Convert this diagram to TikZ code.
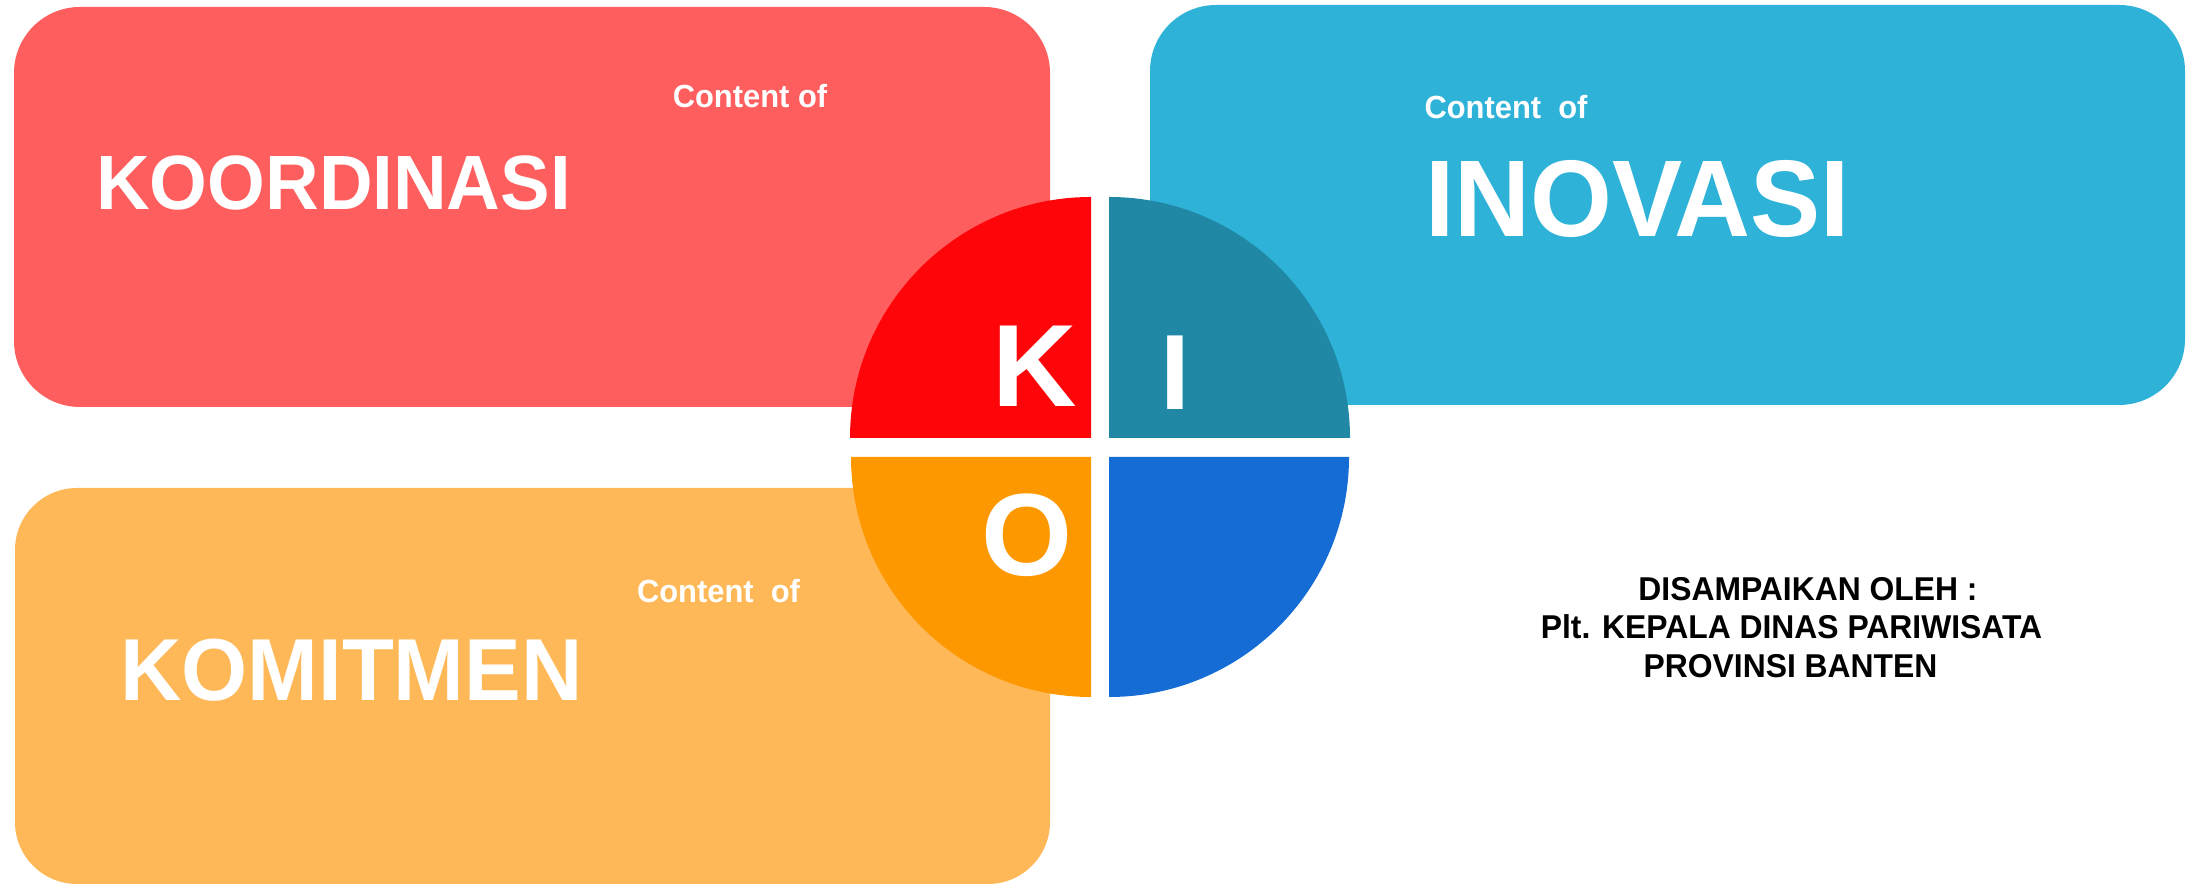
\documentclass[tikz,border=0pt]{standalone}
\usepackage{fontspec}
\setmainfont{Liberation Sans}
\newfontfamily\narrowfont[FakeStretch=0.965]{Liberation Sans}
\definecolor{boxred}{HTML}{FF5E5E}
\definecolor{boxblue}{HTML}{2EB2D8}
\definecolor{boxorange}{HTML}{FEB857}
\definecolor{qred}{HTML}{FE0509}
\definecolor{qteal}{HTML}{2088A5}
\definecolor{qorange}{HTML}{FE9800}
\definecolor{qblue}{HTML}{146CD4}
\tikzset{
  lbl/.style={inner sep=0pt, anchor=base, text=white, font=\narrowfont\bfseries},
  kio/.style={inner sep=0pt, anchor=base, text=white, font=\bfseries},
  info/.style={inner sep=0pt, anchor=base, text=black, font=\narrowfont\bfseries\fontsize{33}{33}\selectfont},
}
\begin{document}
\begin{tikzpicture}[x=1pt,y=1pt]
\useasboundingbox (0,0) rectangle (2186,885);
% boxes
\fill[boxred, rounded corners=66] (14,478) rectangle (1050,878);
\fill[boxblue, rounded corners=66] (1150,480) rectangle (2185,880);
\fill[boxorange, rounded corners=62] (15,1) rectangle (1050,397);
% quarters
\fill[qred] (1091,447) -- (850,447) arc[start angle=180, end angle=90, radius=241] -- cycle;
\fill[qteal] (1109,447) -- (1109,688) arc[start angle=90, end angle=0, radius=241] -- cycle;
\fill[qorange] (1091,428) -- (1091,188) arc[start angle=270, end angle=180, radius=240] -- cycle;
\fill[qblue] (1109,428) -- (1349,428) arc[start angle=0, end angle=-90, radius=240] -- cycle;
% box texts
\node[lbl, font=\narrowfont\bfseries\fontsize{32}{32}\selectfont] (ck) at (750,777) {Content of};
\node[lbl, font=\narrowfont\bfseries\fontsize{77}{77}\selectfont] (koord) at (333.5,675) {KOORDINASI};
\node[lbl, font=\narrowfont\bfseries\fontsize{32}{32}\selectfont] (ci) at (1506,766) {Content\ \ of};
\node[lbl, font=\narrowfont\bfseries\fontsize{109}{109}\selectfont] (inov) at (1637.5,648) {INOVASI};
\node[lbl, font=\narrowfont\bfseries\fontsize{32}{32}\selectfont] (co) at (718.5,282) {Content\ \ of};
\node[lbl, font=\narrowfont\bfseries\fontsize{88}{88}\selectfont] (komit) at (351.5,184) {KOMITMEN};
% letters
\node[kio, font=\bfseries\fontsize{117}{117}\selectfont] (K) at (1034.5,478) {K};
\node[kio, font=\bfseries\fontsize{107}{107}\selectfont] (I) at (1175.5,475) {I};
\node[kio, font=\bfseries\fontsize{117}{117}\selectfont] (O) at (1026.5,309) {O};
% info
\node[info] (l1) at (1808,284) {DISAMPAIKAN OLEH :};
\node[info] (l2) at (1791.5,246) {Plt. KEPALA DINAS PARIWISATA};
\node[info] (l3) at (1790.5,207) {PROVINSI BANTEN};
\end{tikzpicture}
\end{document}
